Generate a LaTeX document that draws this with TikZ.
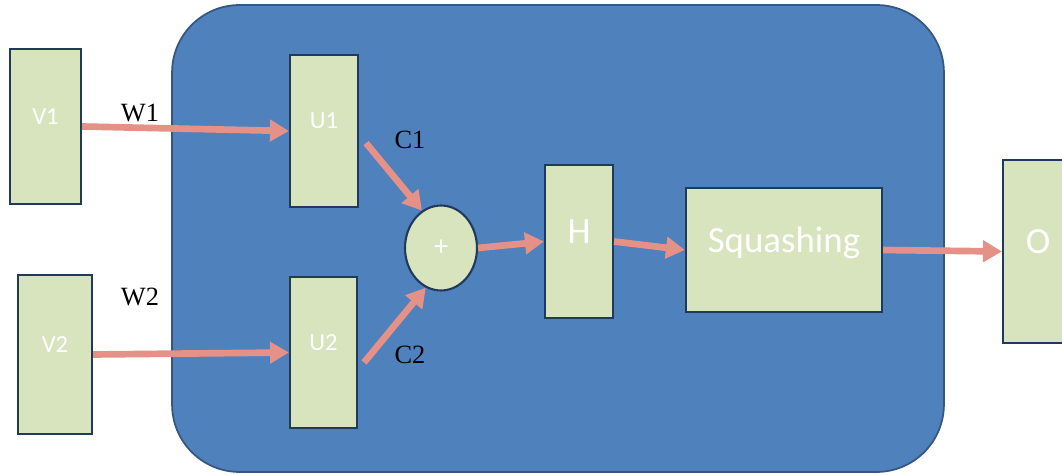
\documentclass[tikz,border=0pt]{standalone}
\usepackage{fontspec}
\setmainfont{Liberation Serif}
\newfontfamily\calibri{Carlito}
\usetikzlibrary{positioning, arrows.meta, shapes.geometric}

\definecolor{panelblue}{RGB}{79,129,189}
\definecolor{paneledge}{RGB}{52,86,128}
\definecolor{boxgreen}{RGB}{215,228,189}
\definecolor{boxedge}{RGB}{33,58,92}
\definecolor{linkpink}{RGB}{230,145,135}

\begin{document}
\begin{tikzpicture}[
    x=0.02cm, y=-0.02cm,
    panel/.style={rectangle, rounded corners=1.35cm, draw=paneledge, line width=1pt,
        fill=panelblue},
    unit/.style={rectangle, draw=boxedge, line width=1.2pt, fill=boxgreen,
        text=white, font=\calibri\fontsize{14}{16}\selectfont,
        text depth=4mm, inner sep=0pt},
    stage/.style={unit, font=\calibri\fontsize{21}{25}\selectfont},
    link/.style={draw=linkpink, line width=3.8pt,
        -{Triangle[length=3.8mm, width=4.2mm]}},
    weight/.style={font=\fontsize{15}{18}\selectfont, text=black},
]
\clip (0,0) rectangle (1062,475);
\fill[white] (0,0) rectangle (1062,475);

% rounded panel holding the hidden unit
\node[panel, minimum width=15.44cm, minimum height=9.34cm] (cell) at (558,238.5) {};

% inputs
\node[unit, minimum width=1.42cm, minimum height=3.1cm] (V1) at (45.5,126.5) {V1};
\node[unit, minimum width=1.48cm, minimum height=3.18cm] (V2) at (55,354.5) {V2};

% inside the panel
\node[unit, minimum width=1.36cm, minimum height=3.04cm] (U1) at (324,131) {U1};
\node[unit, minimum width=1.34cm, minimum height=3.02cm] (U2) at (323.5,352.5) {U2};
\node[unit, ellipse, text depth=0pt, font=\calibri\fontsize{16}{18}\selectfont,
    minimum width=1.44cm, minimum height=1.7cm] (sum) at (441,248) {+};
\node[stage, minimum width=1.36cm, minimum height=3.06cm] (H) at (579,241.5) {H};
\node[stage, minimum width=3.92cm, minimum height=2.48cm] (squash) at (784,250) {Squashing};

% output
\node[stage, minimum width=1.4cm, minimum height=3.66cm] (O) at (1038,251.5) {O};

% weights
\node[weight] (w1) at (140,113) {W1};
\node[weight] (w2) at (140,297) {W2};
\node[weight] (c1) at (410,140) {C1};
\node[weight] (c2) at (410,355) {C2};

\draw[link] (V1.east) -- (U1.west);
\draw[link] (V2.east) -- (U2.west);
\draw[link] ([shift={(7,12)}]U1.east) -- (sum.117);
\draw[link] ([shift={(6,10)}]U2.east) -- (sum.-111);
\draw[link] (sum.east) -- (H.west);
\draw[link] (H.east) -- (squash.west);
\draw[link] (squash.east) -- (O.west);

\end{tikzpicture}
\end{document}
